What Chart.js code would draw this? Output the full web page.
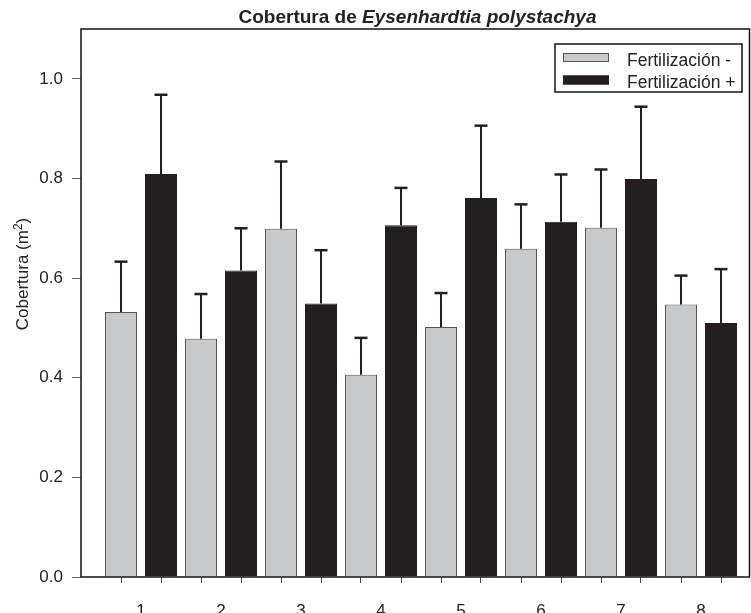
<!DOCTYPE html>
<html><head><meta charset="utf-8">
<script src="https://cdn.jsdelivr.net/npm/chart.js@4.4.1/dist/chart.umd.min.js"></script>
<style>html,body{margin:0;padding:0;background:#fff}canvas{display:block}</style>
</head><body>
<canvas id="c" width="751" height="613"></canvas>
<script>
const categories = ['1', '2', '3', '4', '5', '6', '7', '8'];
const seriesNames = ['Fertilización -', 'Fertilización +'];
const fertMinus = [0.532, 0.478, 0.699, 0.406, 0.502, 0.659, 0.701, 0.547];
const fertMinusErr = [0.101, 0.090, 0.135, 0.074, 0.068, 0.089, 0.117, 0.058];
const fertPlus = [0.809, 0.615, 0.549, 0.706, 0.761, 0.713, 0.799, 0.510];
const fertPlusErr = [0.159, 0.085, 0.107, 0.075, 0.145, 0.095, 0.145, 0.108];
const yTicks = [0.0, 0.2, 0.4, 0.6, 0.8, 1.0];
const titleMain = 'Cobertura de ';
const titleSpecies = 'Eysenhardtia polystachya';
const yTitleParts = ['Cobertura (m', '2', ')'];

const FONT = '"Liberation Sans", Arial, Helvetica, sans-serif';
const GRAY = '#c8c9cb';
const BLACK = '#231f20';
Chart.defaults.font.family = FONT;

const errorBars = {
  id: 'errorBars',
  afterDatasetsDraw(chart) {
    const ctx = chart.ctx, ys = chart.scales.y;
    ctx.save();
    ctx.strokeStyle = BLACK;
    chart.data.datasets.forEach((ds, d) => {
      const meta = chart.getDatasetMeta(d);
      meta.data.forEach((bar, i) => {
        const v = ds.data[i].y, e = ds.errors[i];
        const yTop = ys.getPixelForValue(v + e);
        ctx.lineWidth = 2;
        ctx.beginPath(); ctx.moveTo(bar.x, bar.y); ctx.lineTo(bar.x, yTop); ctx.stroke();
        ctx.lineWidth = 2.5;
        ctx.beginPath(); ctx.moveTo(bar.x - 6.5, yTop); ctx.lineTo(bar.x + 6.5, yTop); ctx.stroke();
      });
    });
    ctx.restore();
  }
};

const frameTitleLegend = {
  id: 'frameTitleLegend',
  afterDraw(chart) {
    const ctx = chart.ctx, a = chart.chartArea;
    ctx.save();
    // frame
    ctx.strokeStyle = '#111'; ctx.lineWidth = 1.5;
    ctx.strokeRect(a.left, a.top, a.right - a.left - 0.5, a.bottom - a.top);
    // title
    const f1 = 'bold 19px ' + FONT, f2 = 'italic bold 19px ' + FONT;
    ctx.font = f1; const w1 = ctx.measureText(titleMain).width;
    ctx.font = f2; const w2 = ctx.measureText(titleSpecies).width;
    let tx = (a.left + a.right) / 2 + 2 - (w1 + w2) / 2;
    ctx.fillStyle = '#222'; ctx.textBaseline = 'alphabetic'; ctx.textAlign = 'left';
    ctx.font = f1; ctx.fillText(titleMain, tx, 23);
    ctx.font = f2; ctx.fillText(titleSpecies, tx + w1, 23);
    // y title
    ctx.save();
    ctx.translate(28, 274);
    ctx.rotate(-Math.PI / 2);
    const fy = '17px ' + FONT, fs = '12px ' + FONT;
    ctx.font = fy; const p0 = ctx.measureText(yTitleParts[0]).width, p2 = ctx.measureText(yTitleParts[2]).width;
    ctx.font = fs; const p1 = ctx.measureText(yTitleParts[1]).width;
    let sx = -(p0 + p1 + p2) / 2;
    ctx.fillStyle = '#222';
    ctx.font = fy; ctx.fillText(yTitleParts[0], sx, 0);
    ctx.font = fs; ctx.fillText(yTitleParts[1], sx + p0, -6.5);
    ctx.font = fy; ctx.fillText(yTitleParts[2], sx + p0 + p1, 0);
    ctx.restore();
    // legend
    const lx = 555, ly = 44, lw = 187, lh = 48;
    ctx.fillStyle = '#fff'; ctx.fillRect(lx, ly, lw, lh);
    ctx.strokeStyle = '#111'; ctx.lineWidth = 1.5; ctx.strokeRect(lx, ly, lw, lh);
    ctx.font = '17.5px ' + FONT; ctx.textBaseline = 'alphabetic';
    chart.data.datasets.forEach((ds, d) => {
      const rowY = ly + 13 + d * 22.5;
      ctx.fillStyle = ds.backgroundColor;
      ctx.fillRect(563, rowY - 4, 46, 9);
      ctx.strokeStyle = ds.borderColor; ctx.lineWidth = 1;
      ctx.strokeRect(563.5, rowY - 3.5, 45, 8);
      ctx.fillStyle = '#222';
      ctx.fillText(ds.label, 627, rowY + 8.5);
    });
    ctx.restore();
  }
};

const xMin = 0.25, xMax = 8.6125;
new Chart(document.getElementById('c'), {
  type: 'bar',
  data: {
    datasets: [
      { label: seriesNames[0], data: fertMinus.map((v, i) => ({ x: i + 1, y: v })), errors: fertMinusErr,
        backgroundColor: GRAY, borderColor: '#555', borderWidth: 1 },
      { label: seriesNames[1], data: fertPlus.map((v, i) => ({ x: i + 1, y: v })), errors: fertPlusErr,
        backgroundColor: BLACK, borderColor: BLACK, borderWidth: 1 }
    ]
  },
  options: {
    responsive: false, animation: false, devicePixelRatio: 1,
    categoryPercentage: 1.0, barPercentage: 0.8,
    layout: { padding: { left: 0, right: 1, top: 29, bottom: 0 } },
    plugins: { legend: { display: false }, title: { display: false }, tooltip: { enabled: false } },
    scales: {
      x: {
        type: 'linear', min: xMin, max: xMax, offset: false, weight: 1,
        afterBuildTicks: s => { s.ticks = categories.map((c, i) => ({ value: i + 1 })); },
        afterFit: s => { s.height = 30; },
        grid: { display: false, offset: false }, border: { display: false },
        ticks: { autoSkip: false, maxRotation: 0, padding: 10, color: '#222', font: { size: 17 },
          callback: v => categories[Math.round(v) - 1] }
      },
      xt: {
        type: 'linear', position: 'bottom', min: xMin, max: xMax, offset: false, weight: 0,
        afterBuildTicks: s => {
          const t = [];
          categories.forEach((c, i) => { t.push({ value: i + 1 - 0.25 }, { value: i + 1 + 0.25 }); });
          s.ticks = t;
        },
        afterFit: s => { s.height = 6; },
        grid: { drawOnChartArea: false, drawTicks: true, tickLength: 6, color: '#444', lineWidth: 1, offset: false },
        border: { display: false },
        ticks: { display: false }
      },
      y: {
        min: 0, max: 1.1,
        afterBuildTicks: s => { s.ticks = yTicks.map(v => ({ value: v })); },
        afterFit: s => { s.width = 81; },
        grid: { drawOnChartArea: false, tickLength: 9, color: '#666' }, border: { display: false },
        ticks: { padding: 9, color: '#222', font: { size: 17 }, callback: v => v.toFixed(1) }
      }
    }
  },
  plugins: [errorBars, frameTitleLegend]
});
</script>
</body></html>
